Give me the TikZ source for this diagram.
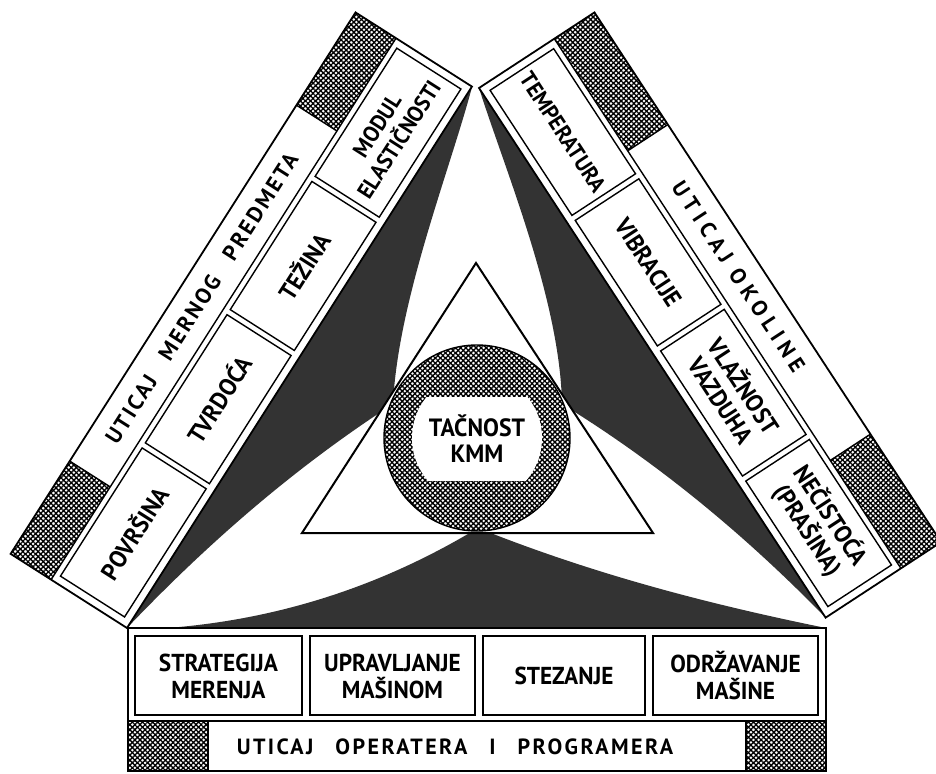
\documentclass[tikz,border=0pt]{standalone}
\usepackage{fontspec}
\setmainfont{PT Sans}
\newfontfamily\boxfont[FakeStretch=0.95]{PT Sans}
\newfontfamily\stripfont[LetterSpace=11]{PT Sans}
\newfontfamily\widestripfont[LetterSpace=26]{PT Sans}
\usetikzlibrary{patterns.meta}
\tikzset{
  hatchA/.style={pattern={Lines[angle=45,distance=3.6pt,line width=1.35pt]}},
  hatchB/.style={pattern={Lines[angle=-45,distance=3.6pt,line width=1.35pt]}},
  frame/.style={draw=black, line width=1.8pt},
  boxline/.style={draw=black, line width=1.4pt},
  boxtext/.style={font=\fontsize{24.5}{27}\selectfont\boxfont\bfseries, align=center, inner sep=0pt},
  smallboxtext/.style={font=\fontsize{22.5}{26}\selectfont\boxfont\bfseries, align=center, inner sep=0pt},
  striptext/.style={font=\fontsize{22}{26}\selectfont\stripfont\bfseries, inner sep=0pt},
  wedge/.style={fill=black!80},
}
\newcommand\hatchrect[2]{\fill[white] #1 rectangle #2; \fill[hatchA] #1 rectangle #2; \fill[hatchB] #1 rectangle #2;}
\begin{document}
\begin{tikzpicture}[x=1pt,y=-1pt]
\useasboundingbox (0,0) rectangle (936,773);
% ---------- dark wedges ----------
\fill[wedge] (472,87) -- (127,628) .. controls (207,544) and (294,468) .. (393,404) .. controls (398,300) and (450,170) .. (472,87) -- cycle;
\fill[wedge] (479,88) -- (826,618) .. controls (747,537) and (661,465) .. (562,404) .. controls (560,300) and (505,170) .. (479,88) -- cycle;
\fill[wedge] (128,630) -- (826,628) .. controls (708,604) and (593,574) .. (478,528) .. controls (369,594) and (252,627) .. (128,630) -- cycle;
% ---------- centre ----------
\coordinate (apex) at (476,263);
\coordinate (bl) at (302,533);
\coordinate (br) at (653,533);
\draw[line width=2pt, fill=white, line join=miter] (apex) -- (br) -- (bl) -- cycle;
\coordinate (cc) at (477,438);
\fill[white] (cc) circle (93);
\fill[hatchA] (cc) circle (93);
\fill[hatchB] (cc) circle (93);
\draw[line width=1.4pt] (cc) circle (93);
\begin{scope}
  \clip (380,397) rectangle (580,480);
  \fill[white] (cc) circle (65);
\end{scope}
\node[boxtext, font=\fontsize{25}{26}\selectfont\boxfont\bfseries] (tacnost) at (477,439) {TAČNOST\\KMM};
% ---------- left panel ----------
\begin{scope}[shift={(127,628)}, x=1pt, y=1pt, rotate=57.5, transform shape]
  \fill[white] (0,0) rectangle (642,138);
  \hatchrect{(0,90)}{(110,138)}
  \hatchrect{(532,90)}{(642,138)}
  \draw[boxline] (0,90) -- (642,90);
  \draw[boxline] (110,90) -- (110,138);
  \draw[boxline] (532,90) -- (532,138);
  \draw[frame] (0,0) rectangle (642,138);
  \draw[boxline] (8,8) rectangle (160,84);
  \draw[boxline] (166,8) rectangle (318,84);
  \draw[boxline] (324,8) rectangle (476,84);
  \draw[boxline] (482,8) rectangle (634,84);
  \node[boxtext] (povrsina) at (84,46) {POVRŠINA};
  \node[boxtext] (tvrdoca) at (242,46) {TVRDOĆA};
  \node[boxtext] (tezina) at (400,46) {TEŽINA};
  \node[smallboxtext] (modul) at (558,46) {MODUL\\ELASTIČNOSTI};
  \node[striptext] (lstrip) at (318,114) {UTICAJ\quad MERNOG\quad PREDMETA};
\end{scope}
% ---------- right panel ----------
\begin{scope}[shift={(479,88)}, x=1pt, y=1pt, rotate=-56.8, transform shape]
  \fill[white] (0,0) rectangle (633,138);
  \hatchrect{(0,90)}{(134,138)}
  \hatchrect{(504,90)}{(633,138)}
  \draw[boxline] (0,90) -- (633,90);
  \draw[boxline] (134,90) -- (134,138);
  \draw[boxline] (504,90) -- (504,138);
  \draw[frame] (0,0) rectangle (633,138);
  \draw[boxline] (8,8) rectangle (157.5,84);
  \draw[boxline] (163.5,8) rectangle (313.5,84);
  \draw[boxline] (319.5,8) rectangle (469,84);
  \draw[boxline] (475,8) rectangle (625,84);
  \node[smallboxtext] (temp) at (83,46) {TEMPERATURA};
  \node[boxtext] (vibr) at (238.5,46) {VIBRACIJE};
  \node[boxtext] (vlaz) at (394,46) {VLAŽNOST\\VAZDUHA};
  \node[boxtext] (necist) at (550,46) {NEČISTOĆA\\(PRAŠINA)};
  \node[striptext, font=\fontsize{22}{26}\selectfont\widestripfont\bfseries] (rstrip) at (300,114) {UTICAJ\enspace OKOLINE};
\end{scope}
% ---------- bottom panel ----------
\fill[white] (128,628) rectangle (826,771);
\hatchrect{(128,721)}{(208,771)}
\hatchrect{(746,721)}{(826,771)}
\draw[boxline] (128,721) -- (826,721);
\draw[boxline] (208,721) -- (208,771);
\draw[boxline] (746,721) -- (746,771);
\draw[frame, line width=2.4pt] (128,628) rectangle (826,771);
\draw[boxline] (135,636) rectangle (302,715);
\draw[boxline] (310,636) rectangle (475,715);
\draw[boxline] (483,636) rectangle (645,715);
\draw[boxline] (653,636) rectangle (818,715);
\node[boxtext] (strat) at (218.5,676) {STRATEGIJA\\MERENJA};
\node[boxtext] (uprav) at (392.5,676) {UPRAVLJANJE\\MAŠINOM};
\node[boxtext] (stez) at (564,676) {STEZANJE};
\node[boxtext] (odrz) at (735.5,676) {ODRŽAVANJE\\MAŠINE};
\node[striptext] (bstrip) at (455,747) {UTICAJ\quad OPERATERA\quad I\quad PROGRAMERA};
\end{tikzpicture}
\end{document}
